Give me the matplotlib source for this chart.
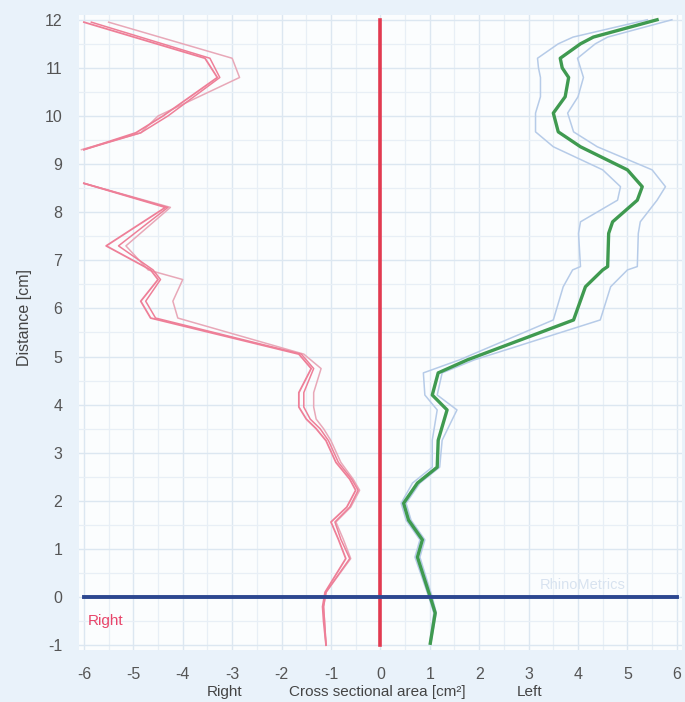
import numpy as np
import matplotlib.pyplot as plt
from matplotlib.ticker import MultipleLocator

plt.rcParams['font.family'] = ['Liberation Sans', 'DejaVu Sans']
plt.rcParams['axes.unicode_minus'] = False

# ---------- data ----------
# right side (negative x), upper segment
r_top_y = [11.95, 11.2, 10.8, 10.0, 9.65, 9.3]
r_top_1 = [-6.0, -3.55, -3.3, -4.4, -4.95, -6.0]
r_top_2 = [-5.85, -3.45, -3.25, -4.3, -4.85, -6.0]
r_top_3 = [-5.5, -3.0, -2.85, -4.5, -4.85, -6.05]

# right side, lower segment
r_low_y = [8.6, 8.1, 7.3, 6.8, 6.6, 6.15, 5.8, 5.05, 4.75, 4.25, 3.95, 3.7,
           3.5, 3.25, 2.8, 2.45, 2.22, 1.87, 1.56, 1.2, 0.8, 0.1, -0.2, -0.5, -1.0]
r_low_1 = [-6.0, -4.35, -5.55, -4.65, -4.5, -4.85, -4.65, -1.65, -1.4, -1.65, -1.65, -1.5,
           -1.3, -1.1, -0.9, -0.62, -0.5, -0.68, -1.0, -0.85, -0.7, -1.12, -1.17, -1.15, -1.1]
r_low_2 = [-6.0, -4.3, -5.3, -4.6, -4.45, -4.75, -4.55, -1.6, -1.35, -1.55, -1.55, -1.42,
           -1.22, -1.05, -0.85, -0.58, -0.45, -0.62, -0.92, -0.8, -0.62, -1.1, -1.15, -1.13, -1.1]
r_low_3 = [-6.0, -4.25, -5.15, -4.7, -4.0, -4.2, -4.1, -1.55, -1.2, -1.35, -1.35, -1.3,
           -1.15, -1.0, -0.8, -0.55, -0.42, -0.6, -0.9, -0.75, -0.6, -1.1, -1.15, -1.13, -1.1]

# left side (positive x): mean and bounds
l_y = [12.0, 11.64, 11.5, 11.2, 11.0, 10.8, 10.4, 10.06, 9.67, 9.36, 8.88, 8.53, 8.25,
       7.8, 7.56, 6.87, 6.8, 6.45, 5.76, 4.93, 4.66, 4.2, 3.89, 3.26, 2.7, 2.37, 1.95,
       1.6, 1.19, 0.83, 0.0, -0.33, -0.96]
l_mean = [5.6, 4.31, 4.05, 3.64, 3.68, 3.81, 3.74, 3.5, 3.6, 4.05, 5.0, 5.3, 5.2,
          4.7, 4.62, 4.6, 4.5, 4.15, 3.91, 1.76, 1.17, 1.05, 1.35, 1.17, 1.15, 0.75, 0.47,
          0.57, 0.85, 0.75, 1.01, 1.11, 1.01]
l_outer = [5.9, 4.6, 4.35, 3.99, 4.05, 4.11, 4.0, 3.79, 3.91, 4.39, 5.5, 5.77, 5.6,
           5.26, 5.22, 5.2, 5.0, 4.66, 4.45, 1.9, 1.25, 1.15, 1.55, 1.25, 1.2, 0.8, 0.52,
           0.62, 0.9, 0.8, 1.05, 1.13, 1.02]
l_inner = [5.4, 3.9, 3.6, 3.18, 3.2, 3.24, 3.24, 3.14, 3.14, 3.5, 4.5, 4.86, 4.8,
           4.05, 4.01, 4.05, 3.89, 3.7, 3.5, 1.6, 0.87, 0.9, 1.15, 1.05, 1.05, 0.65, 0.42,
           0.52, 0.8, 0.7, 0.98, 1.08, 1.0]

x_ticks = [-6, -5, -4, -3, -2, -1, 0, 1, 2, 3, 4, 5, 6]
y_ticks = [-1, 0, 1, 2, 3, 4, 5, 6, 7, 8, 9, 10, 11, 12]

# ---------- styles ----------
BG = '#e9f2fa'
PINK = '#ee7f98'
PINK_LIGHT = '#e8a8b8'
GREEN = '#3f9a50'
BLUE_BOUND = '#b6cbe8'
NAVY = '#2c4790'
RED = '#e23a50'
TICK_COLOR = '#555555'

fig = plt.figure(figsize=(6.85, 7.02), dpi=100, facecolor=BG)
ax = fig.add_axes([0.1153, 0.0741, 0.880, 0.9046])
ax.set_facecolor('#fbfdfe')

# right side curves
ax.plot(r_top_3, r_top_y, color=PINK_LIGHT, lw=1.1, zorder=3)
ax.plot(r_top_2, r_top_y, color=PINK, lw=1.1, zorder=3)
ax.plot(r_top_1, r_top_y, color=PINK, lw=1.3, zorder=3)
ax.plot(r_low_3, r_low_y, color=PINK_LIGHT, lw=1.1, zorder=3)
ax.plot(r_low_2, r_low_y, color=PINK, lw=1.1, zorder=3)
ax.plot(r_low_1, r_low_y, color=PINK, lw=1.3, zorder=3)

# left side curves
ax.plot(l_outer, l_y, color=BLUE_BOUND, lw=1.1, zorder=3)
ax.plot(l_inner, l_y, color=BLUE_BOUND, lw=1.1, zorder=3)
ax.plot(l_mean, l_y, color=GREEN, lw=2.4, zorder=4)

# reference lines
ax.plot([0, 0], [-1, 12], color=RED, lw=2.6, zorder=5)
ax.plot([-6, 6], [0, 0], color=NAVY, lw=2.8, zorder=5)

ax.text(-5.92, -0.5, 'Right', color='#e8456a', fontsize=11, va='center', ha='left')
ax.text(4.1, 0.25, 'RhinoMetrics', color='#d8e3f0', fontsize=10.5, va='center', ha='center')

ax.set_xlim(-6.1, 6.1)
ax.set_ylim(-1.1, 12.1)
ax.set_xticks(x_ticks)
ax.set_yticks(y_ticks)
ax.xaxis.set_minor_locator(MultipleLocator(0.5))
ax.yaxis.set_minor_locator(MultipleLocator(0.5))
ax.grid(True, which='major', color='#dce7f1', lw=1.0)
ax.grid(True, which='minor', color='#e8eff6', lw=0.9)
ax.set_axisbelow(True)
for s in ax.spines.values():
    s.set_visible(False)
ax.tick_params(which='both', length=0)
ax.tick_params(axis='x', pad=12, labelsize=11.5, labelcolor=TICK_COLOR)
ax.tick_params(axis='y', pad=12, labelsize=11.5, labelcolor=TICK_COLOR)

fig.text(225 / 685, 1 - 692 / 702, 'Right', color='#444444', fontsize=11, ha='center', va='center')
fig.text(377 / 685, 1 - 692 / 702, 'Cross sectional area [cm²]', color='#444444', fontsize=11,
         ha='center', va='center')
fig.text(530 / 685, 1 - 692 / 702, 'Left', color='#444444', fontsize=11, ha='center', va='center')
fig.text(25 / 685, 1 - 318 / 702, 'Distance [cm]', color='#444444', fontsize=11.5,
         rotation=90, ha='center', va='center')

fig.savefig('out.png', dpi=100, facecolor=BG)
